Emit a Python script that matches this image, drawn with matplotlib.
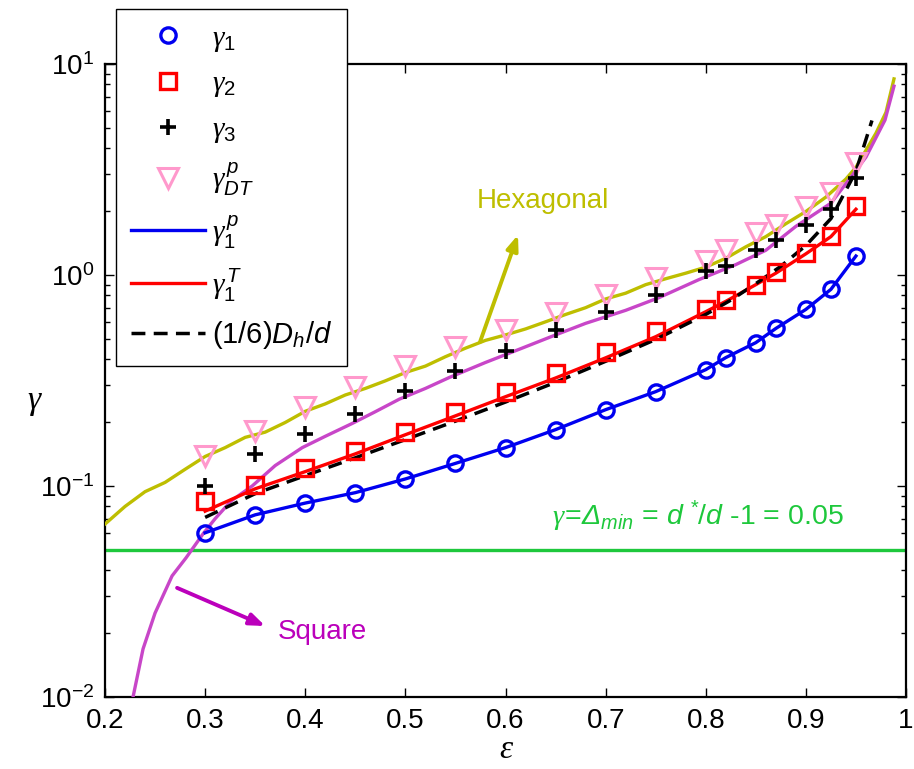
import matplotlib
matplotlib.use("Agg")
import matplotlib.pyplot as plt
from matplotlib.ticker import FixedLocator, FixedFormatter, LogLocator, LogFormatterSciNotation, NullFormatter

plt.rcParams['font.family'] = ['Liberation Sans', 'DejaVu Sans']
plt.rcParams['axes.unicode_minus'] = False
plt.rcParams['mathtext.fontset'] = 'custom'
plt.rcParams['mathtext.rm'] = 'Liberation Sans'
plt.rcParams['mathtext.it'] = 'Liberation Sans:italic'
plt.rcParams['mathtext.bf'] = 'Liberation Sans:bold'
# serif italic used for the Greek symbols, sans italic for the capital Delta
plt.rcParams['mathtext.sf'] = 'Liberation Serif:italic'
plt.rcParams['mathtext.cal'] = 'Liberation Sans:italic'

# ---- data -------------------------------------------------------------
eps_pts = [0.30, 0.35, 0.40, 0.45, 0.50, 0.55, 0.60, 0.65, 0.70, 0.75,
           0.80, 0.82, 0.85, 0.87, 0.90, 0.925, 0.95]
gamma1 = [0.060, 0.073, 0.083, 0.093, 0.108, 0.128, 0.152, 0.185, 0.230, 0.280,
          0.356, 0.406, 0.478, 0.558, 0.687, 0.855, 1.23]
gamma2 = [0.085, 0.101, 0.122, 0.147, 0.181, 0.225, 0.280, 0.345, 0.430, 0.540,
          0.687, 0.758, 0.900, 1.03, 1.27, 1.53, 2.12]
gamma3 = [0.100, 0.142, 0.177, 0.220, 0.283, 0.352, 0.438, 0.546, 0.665, 0.800,
          1.05, 1.10, 1.31, 1.46, 1.72, 2.05, 2.88]
gamma_dt = [0.139, 0.183, 0.238, 0.296, 0.370, 0.454, 0.546, 0.657, 0.800, 0.964,
            1.17, 1.31, 1.58, 1.72, 2.09, 2.44, 3.39]

gamma1_p = gamma1
gamma1_T = [0.076, 0.097, 0.117, 0.142, 0.175, 0.215, 0.265, 0.325, 0.405, 0.510,
            0.670, 0.750, 0.900, 1.02, 1.26, 1.52, 2.05]

eps_dh = [0.30, 0.35, 0.40, 0.45, 0.50, 0.55, 0.60, 0.65, 0.70, 0.75, 0.80,
          0.825, 0.85, 0.875, 0.90, 0.925, 0.95, 0.966]
dh_over_d = [0.071, 0.092, 0.112, 0.136, 0.166, 0.203, 0.250, 0.310, 0.390, 0.495, 0.650,
             0.760, 0.910, 1.10, 1.38, 1.85, 3.10, 5.40]

eps_hex = [0.20, 0.22, 0.24, 0.26, 0.28, 0.30, 0.32, 0.34, 0.36, 0.38, 0.40, 0.42,
           0.44, 0.46, 0.48, 0.50, 0.52, 0.54, 0.56, 0.58, 0.60, 0.62, 0.64, 0.66,
           0.68, 0.70, 0.72, 0.74, 0.76, 0.78, 0.80, 0.82, 0.84, 0.86, 0.88, 0.90,
           0.92, 0.94, 0.95, 0.96, 0.97, 0.98, 0.988]
gamma_hex = [0.066, 0.080, 0.094, 0.104, 0.120, 0.138, 0.152, 0.170, 0.180, 0.200, 0.226, 0.245,
             0.270, 0.290, 0.315, 0.345, 0.370, 0.410, 0.450, 0.490, 0.520, 0.555, 0.600, 0.650,
             0.700, 0.770, 0.820, 0.900, 0.960, 1.02, 1.09, 1.20, 1.36, 1.52, 1.75, 2.00,
             2.34, 2.85, 3.24, 3.90, 4.70, 5.90, 8.50]

eps_sq = [0.228, 0.238, 0.250, 0.267, 0.281, 0.298, 0.310, 0.326, 0.347, 0.370, 0.397,
          0.420, 0.447, 0.470, 0.494, 0.520, 0.544, 0.580, 0.616, 0.650, 0.680, 0.720,
          0.753, 0.793, 0.830, 0.860, 0.890, 0.925, 0.945, 0.960, 0.979, 0.988]
gamma_sq = [0.010, 0.0169, 0.025, 0.0375, 0.0457, 0.0594, 0.070, 0.085, 0.100, 0.125, 0.152,
            0.172, 0.198, 0.225, 0.258, 0.290, 0.327, 0.385, 0.449, 0.520, 0.590, 0.680,
            0.780, 0.950, 1.12, 1.31, 1.70, 2.19, 2.91, 3.62, 5.42, 7.85]

gamma_min = 0.05

x_ticks = [0.2, 0.3, 0.4, 0.5, 0.6, 0.7, 0.8, 0.9, 1.0]
x_tick_labels = ['0.2', '0.3', '0.4', '0.5', '0.6', '0.7', '0.8', '0.9', '1']

# ---- colours ----------------------------------------------------------
c_blue = '#0000F0'
c_red = '#FF0000'
c_pink = '#FF99CC'
c_hex = '#BEBE00'
c_sq = '#C846C8'
c_sq_txt = '#BB00BB'
c_green = '#1EC83C'

G = r'\mathsf{\gamma}'

# ---- figure -----------------------------------------------------------
W, H = 914, 769
fig = plt.figure(figsize=(W / 100, H / 100), dpi=100)
ax = fig.add_axes([105 / W, 1 - 697 / H, (906 - 105) / W, (697 - 64) / H])

ax.set_yscale('log')

ax.axhline(gamma_min, color=c_green, lw=2.4, zorder=2)
ax.plot(eps_hex, gamma_hex, color=c_hex, lw=2.4, zorder=3)
ax.plot(eps_sq, gamma_sq, color=c_sq, lw=2.4, zorder=3)

ax.plot(eps_pts, gamma1, 'o', ls='none', mfc='none', mec=c_blue, ms=11, mew=2.4,
        zorder=5, label=r'$%s_{1}$' % G)
ax.plot(eps_pts, gamma2, 's', ls='none', mfc='none', mec=c_red, ms=12, mew=2.4,
        zorder=5, label=r'$%s_{2}$' % G)
ax.plot(eps_pts, gamma3, '+', ls='none', color='black', ms=11, mew=2.6,
        zorder=6, label=r'$%s_{3}$' % G)
ax.plot(eps_pts, gamma_dt, 'v', ls='none', mfc='none', mec=c_pink, ms=14, mew=2.2,
        zorder=5, label=r'$%s_{DT}^{\,p}$' % G)
ax.plot(eps_pts, gamma1_p, '-', color=c_blue, lw=2.4, zorder=4, label=r'$%s_{1}^{\,p}$' % G)
ax.plot(eps_pts, gamma1_T, '-', color=c_red, lw=2.4, zorder=4, label=r'$%s_{1}^{\,T}$' % G)
ax.plot(eps_dh, dh_over_d, '--', color='black', lw=2.5, dashes=(4, 2.4), zorder=4,
        label=r'(1/6)$D_{h}/d$')

ax.set_xlim(0.2, 1.0)
ax.set_ylim(1e-2, 1e1)

ax.xaxis.set_major_locator(FixedLocator(x_ticks))
ax.xaxis.set_major_formatter(FixedFormatter(x_tick_labels))
ax.yaxis.set_major_locator(LogLocator(base=10, numticks=10))
ax.yaxis.set_major_formatter(LogFormatterSciNotation())
ax.yaxis.set_minor_locator(LogLocator(base=10, subs=range(2, 10), numticks=20))
ax.yaxis.set_minor_formatter(NullFormatter())

ax.tick_params(which='both', direction='in', top=True, right=True, labelsize=20,
               width=1.0, color='black')
ax.tick_params(which='major', length=6.5, pad=8)
ax.tick_params(which='minor', length=3.5)
for s in ax.spines.values():
    s.set_linewidth(1.6)

fig.text(507 / W, 1 - 750 / H, r'$\mathsf{\varepsilon}$', fontsize=24,
         ha='center', va='center')
fig.text(35 / W, 1 - 403 / H, r'$%s$' % G, fontsize=24, ha='center', va='center')

# annotations
ax.annotate('', xy=(0.6125, 1.55), xytext=(0.5745, 0.481),
            arrowprops=dict(arrowstyle='-|>,head_length=0.9,head_width=0.35',
                            color=c_hex, lw=2.8, shrinkA=0, shrinkB=0), zorder=7)
ax.text(0.5715, 2.25, 'Hexagonal', color=c_hex, fontsize=20, ha='left', va='center')

ax.annotate('', xy=(0.360, 0.0217), xytext=(0.272, 0.0329),
            arrowprops=dict(arrowstyle='-|>,head_length=0.9,head_width=0.35',
                            color=c_sq_txt, lw=2.8, shrinkA=0, shrinkB=0), zorder=7)
ax.text(0.3728, 0.0203, 'Square', color=c_sq_txt, fontsize=20, ha='left', va='center')

ax.text(0.6464, 0.0653,
        r'$%s\!=\!\mathcal{\Delta}_{min}$ = $d^{\,*}\!/d$ -1 = 0.05' % G,
        color=c_green, fontsize=20.5, ha='left', va='baseline')

leg = fig.legend(loc='upper left', bbox_to_anchor=(116 / W, 1 - 9 / H),
                 borderaxespad=0, fontsize=21, frameon=True, fancybox=False,
                 edgecolor='black', framealpha=1, handlelength=2.55,
                 handletextpad=0.25, labelspacing=0.54, borderpad=0.5)
leg.get_frame().set_linewidth(1.0)
leg.set_zorder(10)

fig.savefig('out.png', dpi=100)
